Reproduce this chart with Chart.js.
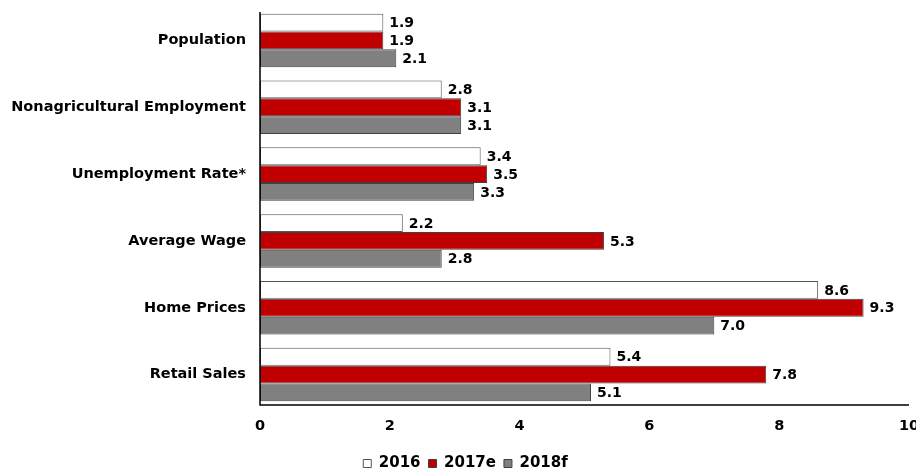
<!DOCTYPE html>
<html><head><meta charset="utf-8">
<script src="https://cdn.jsdelivr.net/npm/chart.js@4/dist/chart.umd.min.js"></script>
<style>html,body{margin:0;padding:0;background:#fff;overflow:hidden;width:916px;height:471px}
#wrap{position:relative;width:931px;height:481px}</style>
</head><body><div id="wrap"><canvas id="c"></canvas></div>
<script>
const categories = ["Population","Nonagricultural Employment","Unemployment Rate*","Average Wage","Home Prices","Retail Sales"];
const seriesNames = ["2016","2017e","2018f"];
const values2016 = [1.9,2.8,3.4,2.2,8.6,5.4];
const values2017e = [1.9,3.1,3.5,5.3,9.3,7.8];
const values2018f = [2.1,3.1,3.3,2.8,7.0,5.1];
const xTicks = [0,2,4,6,8,10];

const FAM = '"DejaVu Sans", Verdana, sans-serif';
const valFont = 'bold 14px ' + FAM;
const labelPlugin = {
  id:'vals',
  afterDatasetsDraw(chart){
    const ctx = chart.ctx;
    ctx.save();
    ctx.font = valFont;
    ctx.fillStyle = '#000';
    ctx.textBaseline = 'middle';
    ctx.textAlign = 'left';
    chart.data.datasets.forEach((ds,i)=>{
      chart.getDatasetMeta(i).data.forEach((bar,j)=>{
        ctx.fillText(ds.data[j].toFixed(1), bar.x + 6, bar.y + 1);
      });
    });
    ctx.restore();
  }
};
const axisPlugin = {
  id:'axes',
  afterDatasetsDraw(chart){
    const {ctx, chartArea:a} = chart;
    const x0 = chart.scales.x.getPixelForValue(0);
    const yB = a.bottom - 3;
    ctx.save();
    ctx.strokeStyle = '#000';
    ctx.lineWidth = 1.5;
    ctx.beginPath();
    ctx.moveTo(x0, a.top + 5);
    ctx.lineTo(x0, yB);
    ctx.lineTo(a.right, yB);
    ctx.stroke();
    ctx.restore();
  }
};

new Chart(document.getElementById('c'), {
  type:'bar',
  data:{
    labels: categories,
    datasets:[
      {label:seriesNames[0], data:values2016, backgroundColor:'#ffffff', borderColor:'#555555', borderWidth:1},
      {label:seriesNames[1], data:values2017e, backgroundColor:'#c00000', borderColor:'#404040', borderWidth:1},
      {label:seriesNames[2], data:values2018f, backgroundColor:'#808080', borderColor:'#404040', borderWidth:1}
    ]
  },
  options:{
    indexAxis:'y',
    responsive:true,
    maintainAspectRatio:false,
    animation:false,
    layout:{padding:{top:7,left:0,right:0,bottom:0}},
    datasets:{bar:{categoryPercentage:0.8, barPercentage:1.0, borderSkipped:false}},
    scales:{
      x:{
        min:0,max:10,
        afterBuildTicks(s){ s.ticks = xTicks.map(v=>({value:v})); },
        grid:{display:false, drawTicks:false},
        border:{display:false},
        ticks:{color:'#000', font:{family:FAM,weight:'bold',size:14.5}, padding:10, maxRotation:0},
        afterFit(s){ s.height = 40; s.paddingRight = 22; }
      },
      y:{
        grid:{display:false, drawTicks:false},
        border:{display:false},
        ticks:{color:'#000', font:{family:FAM,weight:'bold',size:14.5}, padding:14},
        afterFit(s){ s.width = 260; s.paddingTop = 0; s.paddingBottom = 0; }
      }
    },
    plugins:{
      legend:{
        position:'bottom',
        labels:{color:'#000', font:{family:FAM,weight:'bold',size:15}, boxWidth:8, boxHeight:8, padding:8}
      },
      tooltip:{enabled:false}
    }
  },
  plugins:[labelPlugin, axisPlugin]
});
</script></body></html>
